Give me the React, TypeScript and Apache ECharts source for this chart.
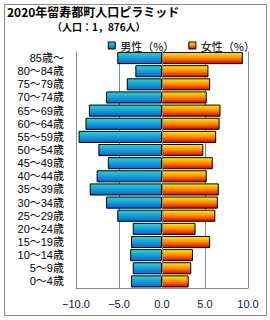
import React, { useEffect, useRef } from "react";
import * as echarts from "echarts";

const ageGroups = [
  "0～4歳", "5～9歳", "10～14歳", "15～19歳", "20～24歳", "25～29歳",
  "30～34歳", "35～39歳", "40～44歳", "45～49歳", "50～54歳", "55～59歳",
  "60～64歳", "65～69歳", "70～74歳", "75～79歳", "80～84歳", "85歳～",
];
const maleShare = [3.6, 3.4, 3.7, 3.6, 3.4, 5.2, 6.5, 8.4, 7.6, 6.3, 7.4, 9.7, 8.9, 8.5, 6.5, 4.1, 3.1, 5.2];
const femaleShare = [3.1, 3.4, 3.6, 5.6, 3.9, 6.2, 6.5, 6.6, 5.2, 5.9, 4.8, 6.3, 6.7, 6.8, 5.2, 5.6, 5.4, 9.4];
const titleText = "2020年留寿都町人口ピラミッド";
const subtitleText = "（人口：1，876人）";
const maleName = "男性（%）";
const femaleName = "女性（%）";

const FONT = "'Noto Sans CJK JP', 'Noto Sans', sans-serif";
const LABEL_FONT = "'Liberation Sans', 'Noto Sans CJK JP', sans-serif";

export default function App() {
  const ref = useRef<HTMLDivElement>(null);
  useEffect(() => {
    document.body.style.margin = "0";
    const chart = echarts.init(ref.current!, null, { renderer: "svg" });
    const maleGrad = new echarts.graphic.LinearGradient(0, 0, 0, 1, [
      { offset: 0, color: "#26d8d2" },
      { offset: 1, color: "#0a62d8" },
    ]);
    const femaleGrad = new echarts.graphic.LinearGradient(0, 0, 0, 1, [
      { offset: 0, color: "#ffee00" },
      { offset: 0.5, color: "#ff8a00" },
      { offset: 1, color: "#dd0000" },
    ]);
    chart.setOption({
      animation: false,
      backgroundColor: "#fff",
      textStyle: { fontFamily: FONT },
      graphic: [
        {
          type: "rect",
          shape: { x: 4.5, y: 4.5, width: 262, height: 311 },
          style: { fill: "none", stroke: "#888", lineWidth: 1 },
          z: 0,
        },
        {
          type: "text",
          left: 6,
          top: 5,
          z: 10,
          style: {
            text: titleText,
            fontSize: 12,
            fontWeight: "bold",
            fontFamily: FONT,
            fill: "#000",
            backgroundColor: "#fff",
            padding: [0, 1, 1, 1],
          },
        },
        {
          type: "text",
          left: 52,
          top: 21,
          z: 10,
          style: {
            text: subtitleText,
            fontSize: 10,
            fontWeight: "bold",
            fontFamily: FONT,
            fill: "#000",
          },
        },
      ],
      legend: {
        right: 10,
        top: 35,
        itemWidth: 7,
        itemHeight: 7,
        itemGap: 14,
        icon: "rect",
        textStyle: { fontSize: 11, color: "#000", fontFamily: FONT },
        data: [
          { name: maleName, itemStyle: { borderColor: "#000", borderWidth: 1 } },
          { name: femaleName, itemStyle: { borderColor: "#000", borderWidth: 1 } },
        ],
      },
      grid: { left: 76, right: 22, top: 51.5, bottom: 32 },
      xAxis: {
        type: "value",
        min: -10,
        max: 10,
        interval: 5,
        axisLine: { show: true, onZero: false, lineStyle: { color: "#888" } },
        axisTick: { show: false },
        splitLine: { show: true, showMinLine: true, showMaxLine: true, lineStyle: { color: "#888", width: 1 } },
        axisLabel: {
          fontSize: 11,
          color: "#0a1a3a",
          margin: 10,
          fontFamily: LABEL_FONT,
          formatter: (v: number) => (v < 0 ? "−" + Math.abs(v).toFixed(1) : v.toFixed(1)),
        },
      },
      yAxis: {
        type: "category",
        data: ageGroups,
        axisLine: { show: false },
        axisTick: { show: false },
        splitLine: { show: false },
        axisLabel: { fontSize: 11, lineHeight: 12, color: "#000", margin: 12, interval: 0, fontFamily: LABEL_FONT },
      },
      series: [
        {
          name: maleName,
          type: "bar",
          stack: "pop",
          barCategoryGap: "8%",
          data: maleShare.map((v) => -v),
          itemStyle: { color: maleGrad, borderColor: "#000", borderWidth: 1 },
          markLine: {
            silent: true,
            symbol: "none",
            label: { show: false },
            lineStyle: { color: "#888", width: 1, type: "solid" },
            data: [{ xAxis: 0 }],
            z: 10,
          },
        },
        {
          name: femaleName,
          type: "bar",
          stack: "pop",
          barCategoryGap: "8%",
          data: femaleShare,
          itemStyle: { color: femaleGrad, borderColor: "#000", borderWidth: 1 },
        },
      ],
    });
    return () => chart.dispose();
  }, []);
  return <div ref={ref} style={{ width: 270, height: 320 }} />;
}
